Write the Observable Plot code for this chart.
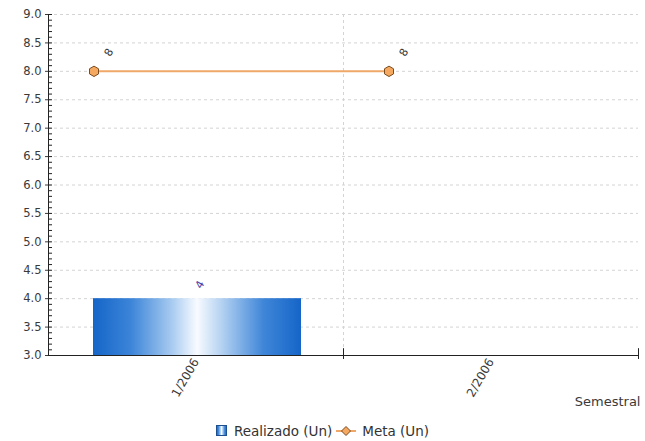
<!DOCTYPE html>
<html><head><meta charset="utf-8">
<script src="https://cdn.jsdelivr.net/npm/d3@7"></script>
<script src="https://cdn.jsdelivr.net/npm/@observablehq/plot@0.6"></script>
<style>
body{margin:0;background:#fff;font-family:"DejaVu Sans",Arial,sans-serif;}
#legend{height:26px;display:flex;justify-content:center;align-items:center;font-size:13.5px;color:#333;padding-left:0px;padding-top:6px;box-sizing:border-box;}
#legend span{display:inline-flex;align-items:center;}
</style></head>
<body><div id="chart"></div><div id="legend"></div>
<script>
const categories = ["1/2006", "2/2006"];
const realizado = [4, null];
const meta = [8, 8];
const yTicks = [3,3.5,4,4.5,5,5.5,6,6.5,7,7.5,8,8.5,9];

const data = categories.map((c,i)=>({cat:c, realizado:realizado[i], meta:meta[i]}));
const bars = data.filter(d=>d.realizado!=null);
const font = "DejaVu Sans, Arial, sans-serif";

const plot = Plot.plot({
  width: 645, height: 415,
  marginLeft: 48, marginRight: 7, marginTop: 14, marginBottom: 60,
  style: {fontFamily: font, fontSize: "11.5px", color: "#3a3a3a"},
  x: {type: "band", domain: categories, padding: 0},
  y: {domain: [3, 9]},
  marks: [
    Plot.gridY(yTicks, {stroke: "#d4d4d4", strokeOpacity: 1, strokeDasharray: "3,3"}),
    Plot.ruleX(categories.slice(0,1), {dx: 147.5, stroke: "#d4d4d4", strokeDasharray: "3,3"}),
    Plot.barY(bars, {x: "cat", y1: 3, y2: "realizado", fill: "url(#barGrad)", insetLeft: 45, insetRight: 42}),
    Plot.ruleY(bars, {x: "cat", y: "realizado", stroke: "#5b9be0", strokeWidth: 1, insetLeft: 45, insetRight: 42}),
    Plot.text(bars, {x: "cat", y: "realizado", text: d=>String(d.realizado), rotate: -60, dx: 4, dy: -14, fill: "#4a3aa8", fontSize: 11}),
    Plot.line(data, {x: "cat", y: "meta", stroke: "#f0a868", strokeWidth: 2, dx: -102}),
    Plot.dot(data, {x: "cat", y: "meta", r: 4.5, symbol: "hexagon", fill: "#f4a860", stroke: "#7a4a20", strokeWidth: 1, dx: -102}),
    Plot.text(data, {x: "cat", y: "meta", text: d=>String(d.meta), rotate: -60, dx: -87, dy: -19, fill: "#333", fontSize: 11}),
    Plot.axisY(yTicks, {tickFormat: d=>d.toFixed(1), tickSize: 3, tickPadding: 4, label: null}),
    Plot.axisY(d3.range(30, 91).map(d=>d/10), {tickFormat: ()=>"", tickSize: 4, dx: 4, label: null, stroke: "#222"}),
    Plot.axisX(categories, {tickSize: 0, tickRotate: -60, tickPadding: 4, label: null, fontSize: 12}),
    Plot.text(["Semestral"], {frameAnchor: "bottom-right", dy: 50, dx: 2, fontSize: 13, fill: "#3a3a3a"}),
    Plot.ruleX(categories, {dx: 147.5, y1: 3, y2: 3.12, stroke: "#222"}),
    Plot.ruleX(categories, {dx: 147.5, y1: 3, y2: 2.93, stroke: "#222", clip: false}),
    Plot.frame({anchor: "left", stroke: "#222"}),
    Plot.frame({anchor: "bottom", stroke: "#222"})
  ]
});

const svg = d3.select(plot);
const defs = svg.insert("defs", ":first-child");
const g = defs.append("linearGradient").attr("id","barGrad").attr("x1","0").attr("x2","1").attr("y1","0").attr("y2","0");
[[0,"#1565c8"],[0.18,"#3b84d8"],[0.38,"#a8cbf0"],[0.5,"#f8fbff"],[0.62,"#b3d1f1"],[0.82,"#3f86d8"],[1,"#1565c8"]]
  .forEach(([o,c])=>g.append("stop").attr("offset",o).attr("stop-color",c));
document.getElementById("chart").appendChild(plot);

document.getElementById("legend").innerHTML =
  `<span><svg width="12" height="12" style="margin-right:6px"><rect x="0.5" y="0.5" width="10" height="10" fill="url(#barGrad)" stroke="#1d4f8f"/></svg>Realizado (Un)</span>
   <span style="margin-left:4px"><svg width="20" height="12" style="margin-right:6px"><line x1="0" x2="20" y1="6" y2="6" stroke="#f0a868" stroke-width="2"/><path d="M10,1.5 L14.5,6 L10,10.5 L5.5,6 Z" fill="#f4a860" stroke="#7a4a20"/></svg>Meta (Un)</span>`;
</script></body></html>
